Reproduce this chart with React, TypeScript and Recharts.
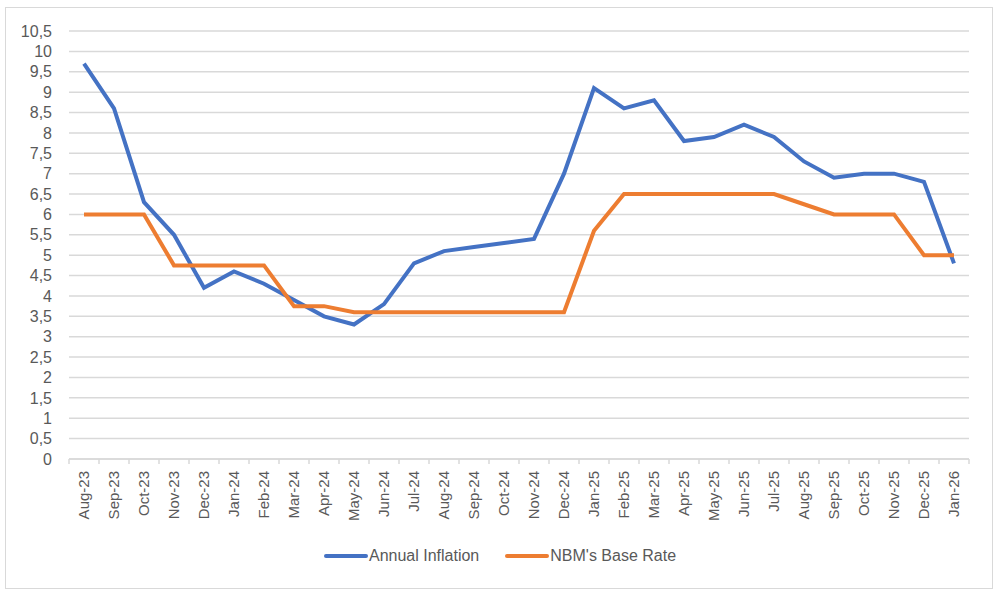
import { CartesianGrid, Legend, Line, LineChart, XAxis, YAxis } from "recharts";

const months = [
    "Aug-23", "Sep-23", "Oct-23", "Nov-23", "Dec-23", "Jan-24", "Feb-24", "Mar-24", "Apr-24", "May-24",
    "Jun-24", "Jul-24", "Aug-24", "Sep-24", "Oct-24", "Nov-24", "Dec-24", "Jan-25", "Feb-25", "Mar-25",
    "Apr-25", "May-25", "Jun-25", "Jul-25", "Aug-25", "Sep-25", "Oct-25", "Nov-25", "Dec-25", "Jan-26",
];

const annualInflation = [
    9.7, 8.6, 6.3, 5.5, 4.2, 4.6, 4.3, 3.9, 3.5, 3.3,
    3.8, 4.8, 5.1, 5.2, 5.3, 5.4, 7.0, 9.1, 8.6, 8.8,
    7.8, 7.9, 8.2, 7.9, 7.3, 6.9, 7.0, 7.0, 6.8, 4.8,
];

const baseRate = [
    6, 6, 6, 4.75, 4.75, 4.75, 4.75, 3.75, 3.75, 3.6,
    3.6, 3.6, 3.6, 3.6, 3.6, 3.6, 3.6, 5.6, 6.5, 6.5,
    6.5, 6.5, 6.5, 6.5, 6.25, 6, 6, 6, 5, 5,
];

const yTicks = [0, 0.5, 1, 1.5, 2, 2.5, 3, 3.5, 4, 4.5, 5, 5.5, 6, 6.5, 7, 7.5, 8, 8.5, 9, 9.5, 10, 10.5];

const seriesNames = ["Annual Inflation", "NBM's Base Rate"];

const data = months.map((m, i) => ({
    month: m,
    inflation: annualInflation[i],
    rate: baseRate[i],
}));

const TEXT = "#595959";
const GRID = "#D9D9D9";
const BLUE = "#4472C4";
const ORANGE = "#ED7D31";
const HALF_BAND = 15;

function MonthTick(props: any) {
    const { x, y, payload, index } = props;
    return (
        <g transform={`translate(${x},${y})`}>
            <line x1={-HALF_BAND} y1={0} x2={-HALF_BAND} y2={5} stroke={GRID} strokeWidth={1.5} />
            {index === months.length - 1 && (
                <line x1={HALF_BAND} y1={0} x2={HALF_BAND} y2={5} stroke={GRID} strokeWidth={1.5} />
            )}
            <text
                transform="rotate(-90)"
                x={-12}
                y={0}
                dy="0.36em"
                textAnchor="end"
                fill={TEXT}
                fontSize={15}
                fontFamily="'Liberation Sans', Arial, sans-serif"
            >
                {payload.value}
            </text>
        </g>
    );
}

function LegendContent() {
    const colors = [BLUE, ORANGE];
    return (
        <div style={{ display: "flex", justifyContent: "center", gap: 26, fontFamily: "'Liberation Sans', Arial, sans-serif", fontSize: 16, color: TEXT }}>
            {seriesNames.map((name, i) => (
                <div key={name} style={{ display: "flex", alignItems: "center" }}>
                    <span style={{ display: "inline-block", width: 44, height: 4, background: colors[i], borderRadius: 2, marginRight: 1 }} />
                    <span>{name}</span>
                </div>
            ))}
        </div>
    );
}

export default function App() {
    return (
        <div style={{ position: "absolute", left: 0, top: 0, width: 1000, height: 594, background: "#fff" }}>
            <div
                style={{
                    position: "absolute",
                    left: 5,
                    top: 7,
                    width: 986,
                    height: 580,
                    border: `1.5px solid ${GRID}`,
                }}
            />
            <LineChart
                width={1000}
                height={594}
                data={data}
                margin={{ top: 31, right: 31, left: 0, bottom: 0 }}
                style={{ position: "absolute", left: 0, top: 0 }}
            >
                <CartesianGrid vertical={false} stroke={GRID} strokeWidth={1.5} />
                <XAxis
                    dataKey="month"
                    height={135}
                    interval={0}
                    padding={{ left: HALF_BAND, right: HALF_BAND }}
                    tickLine={false}
                    tickSize={0}
                    tickMargin={0}
                    axisLine={{ stroke: GRID, strokeWidth: 1.5 }}
                    tick={<MonthTick />}
                />
                <YAxis
                    width={69}
                    domain={[0, 10.5]}
                    ticks={yTicks}
                    interval={0}
                    axisLine={false}
                    tickLine={false}
                    tickMargin={11}
                    tickFormatter={(v: number) => String(v).replace(".", ",")}
                    tick={{ fill: TEXT, fontSize: 16, fontFamily: "'Liberation Sans', Arial, sans-serif" }}
                />
                <Legend
                    layout="horizontal"
                    verticalAlign="middle"
                    align="center"
                    wrapperStyle={{ top: 547, left: 0, width: 1000 }}
                    content={<LegendContent />}
                />
                <Line
                    type="linear"
                    dataKey="inflation"
                    name={seriesNames[0]}
                    stroke={BLUE}
                    strokeWidth={4}
                    dot={false}
                    isAnimationActive={false}
                />
                <Line
                    type="linear"
                    dataKey="rate"
                    name={seriesNames[1]}
                    stroke={ORANGE}
                    strokeWidth={4}
                    dot={false}
                    isAnimationActive={false}
                />
            </LineChart>
        </div>
    );
}
